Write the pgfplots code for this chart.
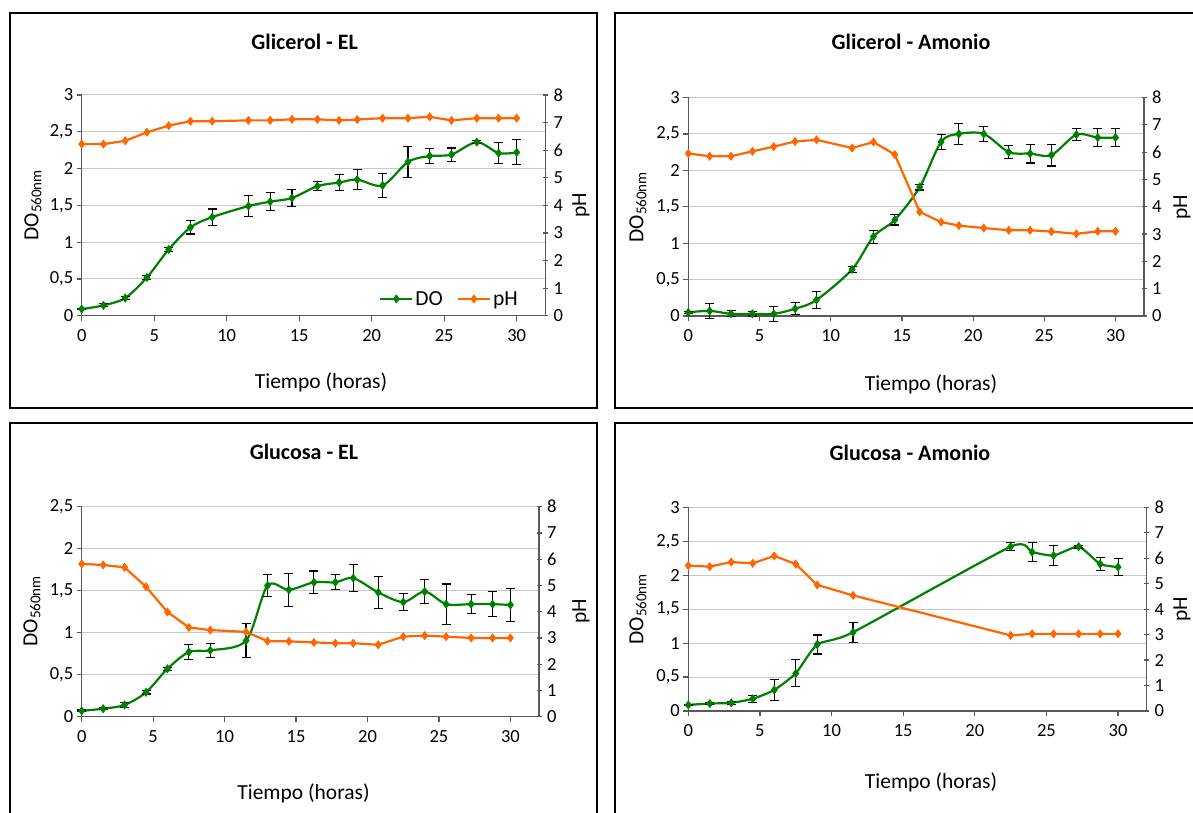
\documentclass[border=0pt]{standalone}
\usepackage{fontspec}
\setmainfont{Carlito}
\usepackage{pgfplots}
\usepackage{pgfplotstable}
\pgfplotsset{compat=1.18}
\definecolor{dgreen}{RGB}{0,128,0}
\definecolor{orng}{RGB}{255,102,0}
\definecolor{axc}{RGB}{90,90,90}
\definecolor{gridc}{RGB}{200,200,200}
\newcommand{\tickfont}{\fontsize{18.5}{20}\selectfont}
\newcommand{\labfont}{\fontsize{21.5}{24}\selectfont}
\newcommand{\titfont}{\fontsize{22}{24}\selectfont\bfseries}

\pgfplotstableread[row sep=\\]{
t v e\\
0 0.09 0.01\\ 1.5 0.14 0.02\\ 3 0.24 0.02\\ 4.5 0.52 0.03\\ 6 0.90 0.03\\
7.5 1.20 0.09\\ 9 1.34 0.11\\ 11.5 1.49 0.14\\ 13 1.55 0.12\\ 14.5 1.60 0.11\\
16.25 1.76 0.06\\ 17.75 1.81 0.11\\ 19 1.85 0.14\\ 20.75 1.77 0.16\\ 22.5 2.09 0.21\\
24 2.17 0.10\\ 25.5 2.19 0.09\\ 27.25 2.36 0.02\\ 28.75 2.21 0.14\\ 30 2.22 0.17\\
}\doA
\pgfplotstableread[row sep=\\]{
t v\\
0 6.22\\ 1.5 6.22\\ 3 6.34\\ 4.5 6.65\\ 6 6.89\\ 7.5 7.05\\ 9 7.05\\ 11.5 7.08\\ 13 7.08\\ 14.5 7.12\\
16.25 7.12\\ 17.75 7.08\\ 19 7.11\\ 20.75 7.16\\ 22.5 7.16\\ 24 7.21\\ 25.5 7.08\\ 27.25 7.16\\ 28.75 7.16\\ 30 7.16\\
}\phA
\pgfplotstableread[row sep=\\]{
t v e\\
0 0.05 0.01\\ 1.5 0.07 0.10\\ 3 0.03 0.04\\ 4.5 0.03 0.03\\ 6 0.03 0.10\\
7.5 0.10 0.08\\ 9 0.22 0.12\\ 11.5 0.64 0.04\\ 13 1.09 0.09\\ 14.5 1.32 0.07\\
16.25 1.77 0.04\\ 17.75 2.39 0.10\\ 19 2.50 0.14\\ 20.75 2.50 0.10\\ 22.5 2.25 0.09\\
24 2.23 0.13\\ 25.5 2.21 0.15\\ 27.25 2.49 0.08\\ 28.75 2.45 0.12\\ 30 2.45 0.12\\
}\doB
\pgfplotstableread[row sep=\\]{
t v\\
0 5.95\\ 1.5 5.85\\ 3 5.85\\ 4.5 6.03\\ 6 6.20\\ 7.5 6.39\\ 9 6.45\\ 11.5 6.15\\ 13 6.37\\ 14.5 5.91\\
16.25 3.81\\ 17.75 3.44\\ 19 3.31\\ 20.75 3.22\\ 22.5 3.14\\ 24 3.14\\ 25.5 3.09\\ 27.25 3.01\\ 28.75 3.10\\ 30 3.10\\
}\phB
\pgfplotstableread[row sep=\\]{
t v e\\
0 0.07 0.01\\ 1.5 0.095 0.01\\ 3 0.14 0.03\\ 4.5 0.29 0.02\\ 6 0.57 0.02\\
7.5 0.77 0.09\\ 9 0.79 0.085\\ 11.5 0.905 0.2\\ 13 1.56 0.13\\ 14.5 1.51 0.2\\
16.25 1.60 0.135\\ 17.75 1.60 0.09\\ 19 1.65 0.16\\ 20.75 1.48 0.19\\ 22.5 1.365 0.10\\
24 1.49 0.14\\ 25.5 1.34 0.24\\ 27.25 1.34 0.115\\ 28.75 1.34 0.15\\ 30 1.33 0.20\\
}\doC
\pgfplotstableread[row sep=\\]{
t v\\
0 5.82\\ 1.5 5.78\\ 3 5.69\\ 4.5 4.95\\ 6 3.99\\ 7.5 3.40\\ 9 3.30\\ 11.5 3.23\\ 13 2.88\\ 14.5 2.87\\
16.25 2.83\\ 17.75 2.80\\ 19 2.80\\ 20.75 2.74\\ 22.5 3.05\\ 24 3.09\\ 25.5 3.05\\ 27.25 3.00\\ 28.75 3.00\\ 30 3.00\\
}\phC
\pgfplotstableread[row sep=\\]{
t v e\\
0 0.09 0.01\\ 1.5 0.11 0.01\\ 3 0.12 0.02\\ 4.5 0.18 0.05\\ 6 0.31 0.15\\
7.5 0.555 0.2\\ 9 0.98 0.14\\ 11.5 1.16 0.15\\ 22.5 2.42 0.06\\ 24 2.34 0.14\\
25.5 2.29 0.15\\ 27.25 2.42 0.02\\ 28.75 2.165 0.10\\ 30 2.12 0.13\\
}\doD
\pgfplotstableread[row sep=\\]{
t v\\
0 5.71\\ 1.5 5.67\\ 3 5.85\\ 4.5 5.80\\ 6 6.09\\ 7.5 5.77\\ 9 4.95\\ 11.5 4.54\\
22.5 2.97\\ 24 3.03\\ 25.5 3.03\\ 27.25 3.03\\ 28.75 3.03\\ 30 3.03\\
}\phD

\pgfplotsset{
  base/.style={scale only axis, xmin=0, xmax=32, ymin=0,
    xtick={0,5,10,15,20,25,30},
    tick label style={font=\tickfont},
    /pgf/number format/assume math mode=true,
    /pgf/number format/use comma,
    axis line style={draw=axc, line width=1.2pt, -},
    major tick style={draw=axc, line width=1.2pt},
    major tick length=5pt,
    clip=false},
  prim/.style={base, axis x line*=bottom, axis y line*=left, ymajorgrids,
    major grid style={draw=gridc, line width=1pt}, tick align=outside,
    xticklabel shift=5pt},
  sec/.style={base, axis x line=none, axis y line*=right, ymax=8,
    ytick={0,1,2,3,4,5,6,7,8}, tick align=center, yticklabel shift=2pt},
  do/.style={dgreen, line width=2.2pt, smooth, mark=diamond*, mark size=3.8pt,
    mark options={solid, fill=dgreen, line width=1pt},
    error bars/.cd, y dir=both, y explicit,
    error bar style={black, line width=1.1pt},
    error mark options={black, line width=1.1pt, mark size=4.5pt, rotate=90}},
  ph/.style={orng, line width=2.2pt, mark=diamond*, mark size=3.8pt,
    mark options={fill=orng, line width=1pt}},
}

\begin{document}
\begin{tikzpicture}
\useasboundingbox (0,0) rectangle (1193pt,812pt);
\draw[line width=1.2pt] (10pt,404pt) rectangle (597pt,799pt);
\draw[line width=1.2pt] (615pt,404pt) rectangle (1220pt,799pt);
\draw[line width=1.2pt] (10pt,-30pt) rectangle (597pt,389pt);
\draw[line width=1.2pt] (615pt,-30pt) rectangle (1220pt,389pt);

% Panel 1
\begin{axis}[prim, at={(81.7pt,496.3pt)}, anchor=south west, width=464pt, height=220.7pt,
  ymax=3, ytick={0,0.5,1,1.5,2,2.5,3},
  legend columns=2,
  legend style={at={(0.951,0.076)}, anchor=east, draw=none, fill=none, font=\labfont,
    /tikz/every even column/.append style={column sep=12pt}},
  legend image code/.code={\draw[mark repeat=2,mark phase=2,#1] plot coordinates {(0pt,0pt) (16pt,0pt) (32pt,0pt)};}]
\addplot[do] table[x=t,y=v,y error=e] {\doA};
\addlegendentry{DO}
\addlegendimage{ph}
\addlegendentry{pH}
\end{axis}
\begin{axis}[sec, at={(81.7pt,496.3pt)}, anchor=south west, width=464pt, height=220.7pt]
\addplot[ph] table[x=t,y=v] {\phA};
\end{axis}

% Panel 2
\begin{axis}[prim, at={(688.3pt,496pt)}, anchor=south west, width=455.7pt, height=218.5pt,
  ymax=3, ytick={0,0.5,1,1.5,2,2.5,3}]
\addplot[do] table[x=t,y=v,y error=e] {\doB};
\end{axis}
\begin{axis}[sec, at={(688.3pt,496pt)}, anchor=south west, width=455.7pt, height=218.5pt]
\addplot[ph] table[x=t,y=v] {\phB};
\end{axis}

% Panel 3
\begin{axis}[prim, at={(81.7pt,95.3pt)}, anchor=south west, width=457.3pt, height=210pt,
  ymax=2.5, ytick={0,0.5,1,1.5,2,2.5}]
\addplot[do] table[x=t,y=v,y error=e] {\doC};
\end{axis}
\begin{axis}[sec, at={(81.7pt,95.3pt)}, anchor=south west, width=457.3pt, height=210pt]
\addplot[ph] table[x=t,y=v] {\phC};
\end{axis}

% Panel 4
\begin{axis}[prim, at={(688.3pt,101pt)}, anchor=south west, width=458.4pt, height=203.7pt,
  ymax=3, ytick={0,0.5,1,1.5,2,2.5,3}]
\addplot[tension=0.35, do] table[x=t,y=v,y error=e] {\doD};
\end{axis}
\begin{axis}[sec, at={(688.3pt,101pt)}, anchor=south west, width=458.4pt, height=203.7pt]
\addplot[ph] table[x=t,y=v] {\phD};
\end{axis}

% titles and labels
\node[font=\titfont] at (304.7pt,770pt) {Glicerol - EL};
\node[font=\titfont] at (911pt,770pt) {Glicerol - Amonio};
\node[font=\titfont] at (304pt,360pt) {Glucosa - EL};
\node[font=\titfont] at (910pt,359pt) {Glucosa - Amonio};
\node[font=\labfont] at (321pt,430pt) {Tiempo (horas)};
\node[font=\labfont] at (931pt,428pt) {Tiempo (horas)};
\node[font=\labfont] at (303.5pt,19pt) {Tiempo (horas)};
\node[font=\labfont] at (931pt,30pt) {Tiempo (horas)};
\node[font=\labfont, rotate=90] at (33pt,607pt) {DO\textsubscript{560nm}};
\node[font=\labfont, rotate=90] at (638pt,605pt) {DO\textsubscript{560nm}};
\node[font=\labfont, rotate=90] at (32pt,201pt) {DO\textsubscript{560nm}};
\node[font=\labfont, rotate=90] at (638pt,203pt) {DO\textsubscript{560nm}};
\node[font=\labfont, rotate=90] at (581pt,607pt) {pH};
\node[font=\labfont, rotate=90, inner sep=0pt] at (1182pt,605pt) {pH};
\node[font=\labfont, rotate=90] at (581pt,201pt) {pH};
\node[font=\labfont, rotate=90, inner sep=0pt] at (1182pt,203pt) {pH};
\end{tikzpicture}
\end{document}
